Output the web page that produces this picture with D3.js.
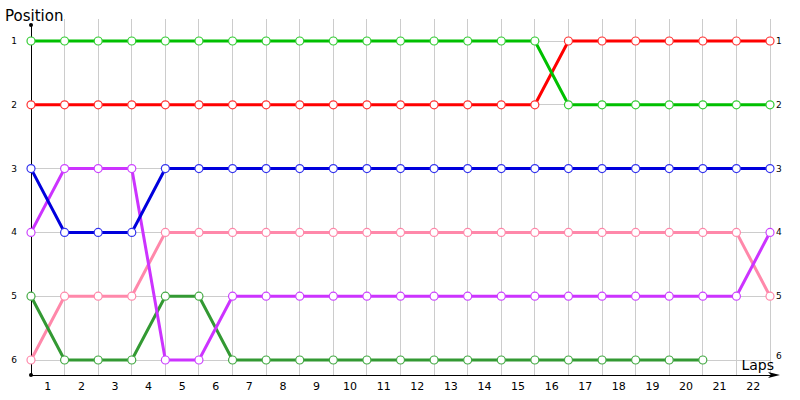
<!DOCTYPE html>
<html>
<head>
<meta charset="utf-8">
<script src="https://cdn.jsdelivr.net/npm/d3@7"></script>
<style>
  body { margin: 0; background: #fff; }
  text { font-family: "DejaVu Sans", Verdana, sans-serif; }
</style>
</head>
<body>
<div id="chart"></div>
<script>
var laps = d3.range(0, 23);
var lapLabels = d3.range(1, 23);
var positions = [1, 2, 3, 4, 5, 6];

// position of each driver per lap (lap 0..22), null = no data
var greenPos  = [1,1,1,1,1,1,1,1,1,1,1,1,1,1,1,1,2,2,2,2,2,2,2];
var redPos    = [2,2,2,2,2,2,2,2,2,2,2,2,2,2,2,2,1,1,1,1,1,1,1];
var bluePos   = [3,4,4,4,3,3,3,3,3,3,3,3,3,3,3,3,3,3,3,3,3,3,3];
var purplePos = [4,3,3,3,6,6,5,5,5,5,5,5,5,5,5,5,5,5,5,5,5,5,4];
var pinkPos   = [6,5,5,5,4,4,4,4,4,4,4,4,4,4,4,4,4,4,4,4,4,4,5];
var dkgreenPos= [5,6,6,6,5,5,6,6,6,6,6,6,6,6,6,6,6,6,6,6,6,null,null];

var series = [
  { name: "pink",    color: "#ff88aa", marker: "#ff88aa", values: pinkPos },
  { name: "dkgreen", color: "#339933", marker: "#44aa44", values: dkgreenPos },
  { name: "purple",  color: "#cc33ff", marker: "#cc44ff", values: purplePos },
  { name: "blue",    color: "#0000dd", marker: "#3333ee", values: bluePos },
  { name: "red",     color: "#ff0000", marker: "#ff3333", values: redPos },
  { name: "green",   color: "#00c000", marker: "#33cc33", values: greenPos }
];

var width = 800, height = 400;
var x = d3.scaleLinear().domain([0, 22]).range([31, 770]);
var y = d3.scaleLinear().domain([1, 6]).range([41, 360]);
var axisY = 375, topY = 25;

var svg = d3.select("#chart").append("svg")
  .attr("width", width)
  .attr("height", height);

// grid
svg.append("g").selectAll("line.v")
  .data(laps.slice(1))
  .enter().append("line")
    .attr("x1", d => x(d)).attr("x2", d => x(d))
    .attr("y1", 19).attr("y2", axisY)
    .attr("stroke", "#cccccc").attr("stroke-width", 1)
    .attr("shape-rendering", "crispEdges");

svg.append("g").selectAll("line.h")
  .data(positions)
  .enter().append("line")
    .attr("x1", x(0)).attr("x2", x(22))
    .attr("y1", d => y(d)).attr("y2", d => y(d))
    .attr("stroke", "#cccccc").attr("stroke-width", 1)
    .attr("shape-rendering", "crispEdges");

// axes
svg.append("line")
  .attr("x1", x(0)).attr("x2", x(0))
  .attr("y1", topY).attr("y2", axisY)
  .attr("stroke", "#000").attr("shape-rendering", "crispEdges");
svg.append("line")
  .attr("x1", x(0)).attr("x2", 776)
  .attr("y1", axisY).attr("y2", axisY)
  .attr("stroke", "#000").attr("shape-rendering", "crispEdges");
svg.append("path")
  .attr("d", `M780,${axisY} L768,${axisY - 3} L771,${axisY} L768,${axisY + 3} Z`)
  .attr("fill", "#000");
svg.append("circle").attr("cx", x(0)).attr("cy", topY).attr("r", 2).attr("fill", "#000");
svg.append("circle").attr("cx", x(0)).attr("cy", axisY).attr("r", 2).attr("fill", "#000");

// x labels (centered between laps)
svg.append("g").selectAll("text")
  .data(lapLabels)
  .enter().append("text")
    .attr("x", d => x(d - 0.5))
    .attr("y", 390)
    .attr("text-anchor", "middle")
    .attr("font-size", 11)
    .text(d => d);

// y labels left and right
svg.append("g").selectAll("text")
  .data(positions)
  .enter().append("text")
    .attr("x", 17)
    .attr("y", d => y(d) + 3)
    .attr("text-anchor", "end")
    .attr("font-size", 9)
    .text(d => d);
svg.append("g").selectAll("text")
  .data(positions)
  .enter().append("text")
    .attr("x", 776)
    .attr("y", d => y(d) + (d === 6 ? -1 : 3))
    .attr("font-size", 9)
    .text(d => d);

svg.append("text").attr("x", 5).attr("y", 21).attr("font-size", 15)
  .attr("font-family", "Noto Sans").text("Position");
svg.append("text").attr("x", 774).attr("y", 370).attr("font-size", 14)
  .attr("text-anchor", "end")
  .attr("font-family", "Noto Sans").text("Laps");

// lines
var line = d3.line()
  .defined(d => d != null)
  .x((d, i) => x(i))
  .y(d => y(d));

var g = svg.append("g").selectAll("g")
  .data(series)
  .enter().append("g");

g.append("path")
  .attr("d", d => line(d.values))
  .attr("fill", "none")
  .attr("stroke", d => d.color)
  .attr("stroke-width", 3);

g.each(function(s) {
  d3.select(this).selectAll("circle")
    .data(s.values.map((v, i) => ({ v: v, i: i })).filter(p => p.v != null))
    .enter().append("circle")
      .attr("cx", p => x(p.i))
      .attr("cy", p => y(p.v))
      .attr("r", 4)
      .attr("fill", "#fff")
      .attr("stroke", s.marker)
      .attr("stroke-width", 1.2);
});
</script>
</body>
</html>
